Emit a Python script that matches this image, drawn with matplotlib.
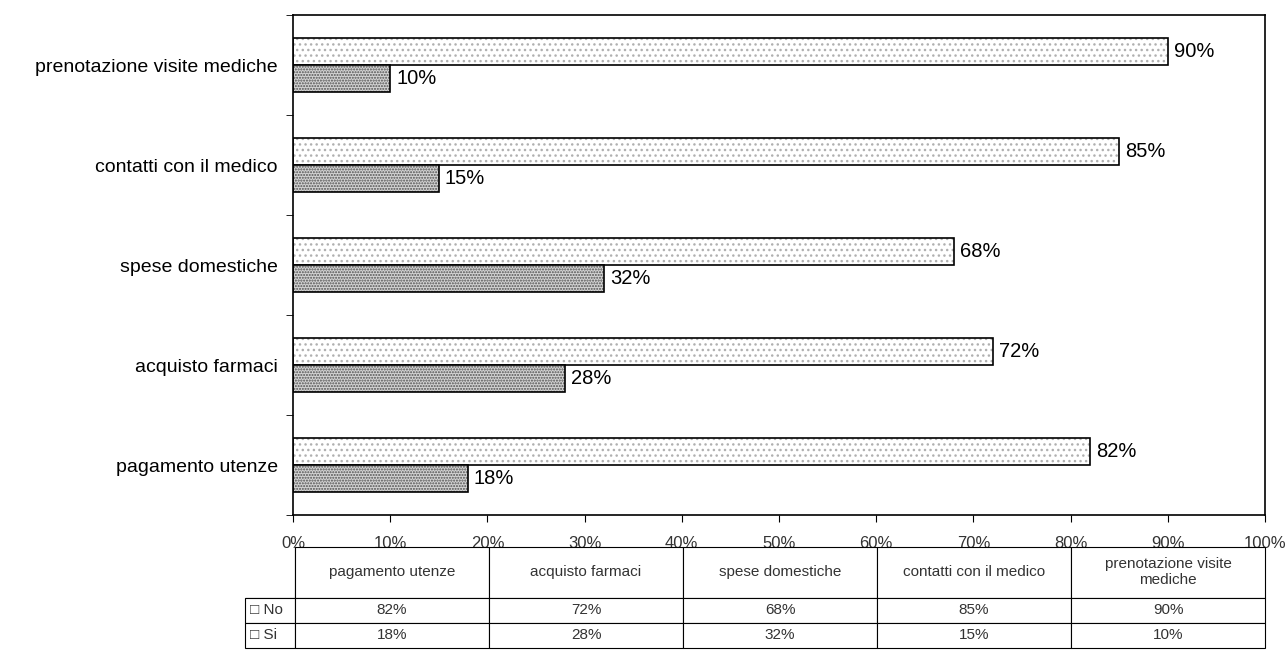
import matplotlib.pyplot as plt
import numpy as np

categorie = ["pagamento utenze", "acquisto farmaci", "spese domestiche",
             "contatti con il medico", "prenotazione visite mediche"]
intestazioni = ["pagamento utenze", "acquisto farmaci", "spese domestiche",
                "contatti con il medico", "prenotazione visite\nmediche"]
no_vals = [82, 72, 68, 85, 90]
si_vals = [18, 28, 32, 15, 10]
x_ticks = [0, 10, 20, 30, 40, 50, 60, 70, 80, 90, 100]

plt.rcParams['font.family'] = ['Liberation Sans', 'DejaVu Sans']

fig = plt.figure(figsize=(12.87, 6.57), dpi=100)
ax = fig.add_axes([293 / 1287, 1 - 515 / 657, (1265 - 293) / 1287, 500 / 657])

y = np.arange(len(categorie))
h = 0.27

# sfondo puntinato (due strati: tratteggio grigio + bordo nero)
ax.barh(y + h / 2, no_vals, height=h, color="white", hatch="...",
        edgecolor="#b0b0b0", linewidth=0)
ax.barh(y + h / 2, no_vals, height=h, fill=False, edgecolor="black", linewidth=1.2)
ax.barh(y - h / 2, si_vals, height=h, color="#d4d4d4", hatch="......",
        edgecolor="#505050", linewidth=0)
ax.barh(y - h / 2, si_vals, height=h, fill=False, edgecolor="black", linewidth=1.2)

for yi, v in zip(y, no_vals):
    ax.text(v + 0.6, yi + h / 2, f"{v}%", va="center", ha="left", fontsize=14.5)
for yi, v in zip(y, si_vals):
    ax.text(v + 0.6, yi - h / 2, f"{v}%", va="center", ha="left", fontsize=14.5)

ax.set_xlim(0, 100)
ax.set_ylim(-0.5, len(categorie) - 0.5)
ax.set_xticks(x_ticks)
ax.set_xticklabels([f"{t}%" for t in x_ticks], fontsize=12, color="#333333")
ax.tick_params(axis="x", length=5, pad=10, direction="out")
ax.set_yticks(y)
ax.set_yticklabels(categorie, fontsize=14)
ax.tick_params(axis="y", which="major", length=0, pad=11)
ax.set_yticks(np.arange(-0.5, len(categorie)), minor=True)
ax.tick_params(axis="y", which="minor", length=5, direction="out")
for s in ax.spines.values():
    s.set_linewidth(1.2)

# tabella dati
tab_ax = fig.add_axes([245 / 1287, 1 - 648 / 657, (1265 - 245) / 1287, 101 / 657])
tab_ax.axis("off")
celle = [[""] + intestazioni,
         ["□ No"] + [f"{v}%" for v in no_vals],
         ["□ Si"] + [f"{v}%" for v in si_vals]]
tab = tab_ax.table(cellText=celle, colWidths=[50] + [194] * 5, bbox=[0, 0, 1, 1],
                   cellLoc="center")
tab.auto_set_font_size(False)
for (r, c), cell in tab.get_celld().items():
    cell.set_linewidth(0.8)
    cell.get_text().set_fontsize(11)
    cell.get_text().set_color("#333333")
    if r == 0:
        cell.set_height(0.5)
        if c == 0:
            cell.visible_edges = "BR"
    else:
        cell.set_height(0.25)
    if c == 0 and r > 0:
        cell.get_text().set_ha("left")
        cell._loc = "left"

fig.savefig("out.png", dpi=100)
